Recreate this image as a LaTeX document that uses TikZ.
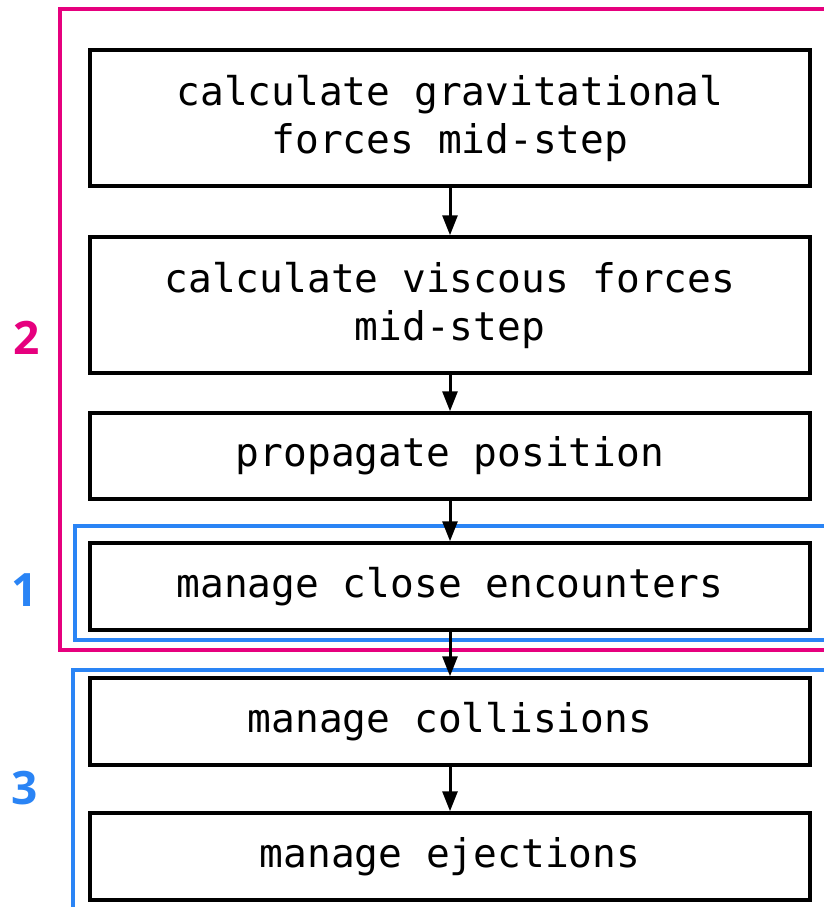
\documentclass[tikz,border=0pt]{standalone}
\usepackage{fontspec}
\setmainfont{Open Sans}
\newfontfamily\boxfont{DejaVu Sans Mono}
\usetikzlibrary{arrows.meta}
\definecolor{grpmag}{HTML}{E6007E}
\definecolor{grpblue}{HTML}{2A84F5}
\tikzset{
  stepbox/.style={draw=black, line width=3.5pt, fill=white, minimum width=720pt, inner sep=0pt, align=center, font=\boxfont\fontsize{39.5}{48}\selectfont},
  flow/.style={line width=3pt, -{Triangle[length=20pt,width=15pt]}},
  grplabel/.style={font=\fontsize{46}{50}\selectfont\bfseries, anchor=center},
  frame/.style={line width=3.5pt},
}
\begin{document}
\begin{tikzpicture}[x=1pt,y=-1pt]
\useasboundingbox (0,0) rectangle (824,907);
\clip (0,0) rectangle (824,907);
% group frames
\draw[frame, grpmag] (840,9) -- (60,9) -- (60,650) -- (840,650);
\draw[frame, grpblue] (840,526) -- (75,526) -- (75,640) -- (840,640);
\draw[frame, grpblue] (840,670) -- (73,670) -- (73,920);
% labels
\node[grplabel, text=grpmag] (l2) at (27,338) {2};
\node[grplabel, text=grpblue] (l1) at (25,590) {1};
\node[grplabel, text=grpblue] (l3) at (25,788) {3};
% boxes
\node[stepbox, minimum height=136pt] (b1) at (450,118) {calculate gravitational\\forces mid-step};
\node[stepbox, minimum height=136pt] (b2) at (450,305) {calculate viscous forces\\mid-step};
\node[stepbox, minimum height=86pt] (b3) at (450,456) {propagate position};
\node[stepbox, minimum height=87pt] (b4) at (450,586.5) {manage close encounters};
\node[stepbox, minimum height=87pt] (b5) at (450,721.5) {manage collisions};
\node[stepbox, minimum height=87pt] (b6) at (450,856.5) {manage ejections};
% arrows
\draw[flow] (b1.south) -- (b2.north);
\draw[flow] (b2.south) -- (b3.north);
\draw[flow] (b3.south) -- (b4.north);
\draw[flow] (b4.south) -- (b5.north);
\draw[flow] (b5.south) -- (b6.north);
\end{tikzpicture}
\end{document}
